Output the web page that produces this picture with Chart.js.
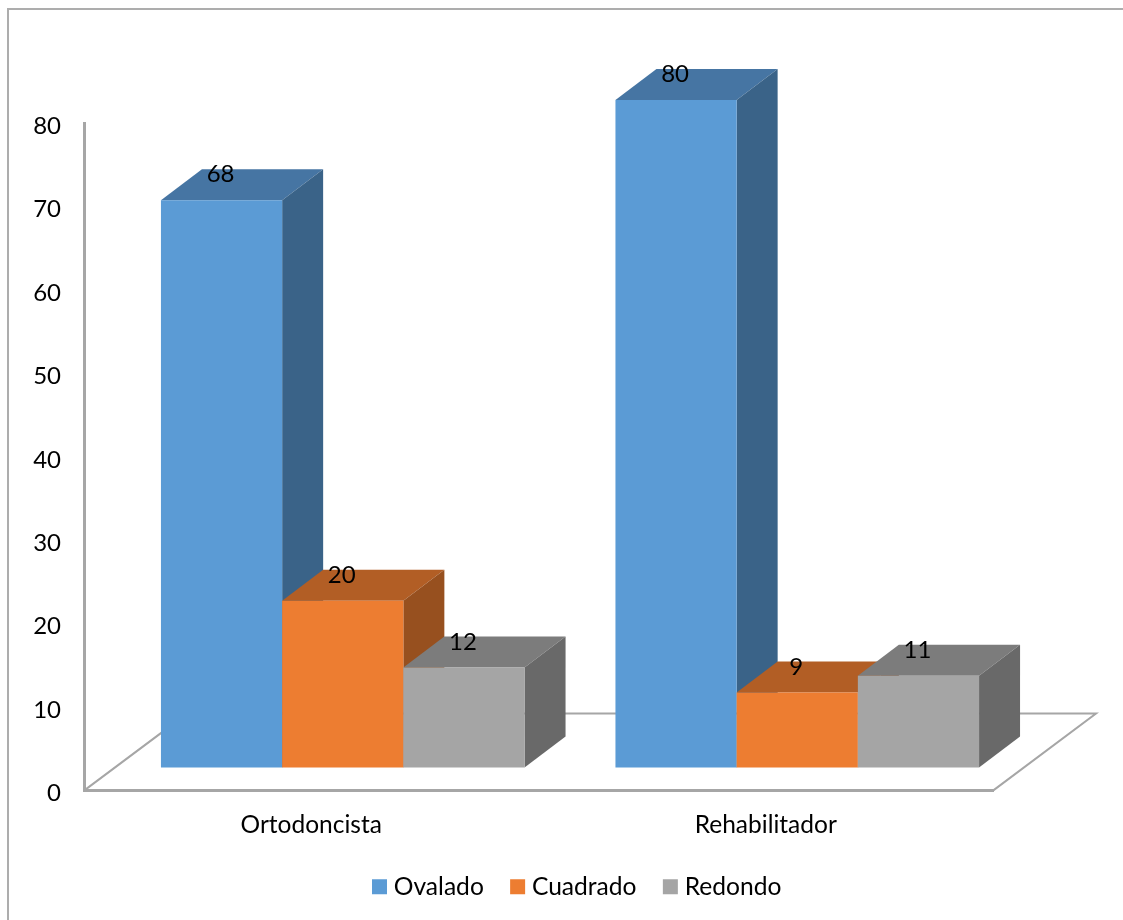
<!DOCTYPE html>
<html>
<head>
<meta charset="utf-8">
<title>Forma de arcada por especialidad</title>
<style>
  html, body { margin: 0; padding: 0; background: #fff; }
  canvas { display: block; }
</style>
<script src="https://cdn.jsdelivr.net/npm/chart.js@4/dist/chart.umd.js"></script>
</head>
<body>
<canvas id="chart" width="1123" height="920"></canvas>
<script>
const categories = ['Ortodoncista', 'Rehabilitador'];
const seriesNames = ['Ovalado', 'Cuadrado', 'Redondo'];
const ovalado = [68, 80];
const cuadrado = [20, 9];
const redondo = [12, 11];

const frontColors = ['#5B9BD5', '#ED7D31', '#A5A5A5'];
const topColors = ['#4675A3', '#B25E25', '#7C7C7C'];
const sideColors = ['#3A6388', '#97501F', '#696969'];

const FONT = 'Lato';
const AXIS_COLOR = '#A6A6A6';
const TEXT_COLOR = '#000000';

// Oblique projection of the 3D box: depth of each bar, and where the bars stand on the floor.
const DEPTH_X = 41, DEPTH_Y = 31;
const BAR_SHIFT_X = 31.5, BAR_SHIFT_Y = 23;
const FLOOR_X = 103, FLOOR_Y = 77;
const LABEL_LIFT = 25.5;

function face(ctx, color, points) {
  ctx.fillStyle = color;
  ctx.beginPath();
  points.forEach(([x, y], i) => (i ? ctx.lineTo(x, y) : ctx.moveTo(x, y)));
  ctx.closePath();
  ctx.fill();
}

const frame = {
  id: 'frame',
  beforeDraw(chart) {
    const { ctx, width, height } = chart;
    ctx.save();
    ctx.strokeStyle = '#ADADAD';
    ctx.lineWidth = 2;
    ctx.beginPath();
    ctx.moveTo(8, height);
    ctx.lineTo(8, 9);
    ctx.lineTo(width, 9);
    ctx.stroke();
    ctx.restore();
  }
};

const legendPlacement = {
  id: 'legendPlacement',
  afterLayout(chart) {
    const legend = chart.legend;
    const pad = legend.options.labels.padding;
    const w = legend.right - legend.left;
    legend.left = 377.5 - pad;
    legend.right = legend.left + w;
  }
};

const bars3d = {
  id: 'bars3d',
  beforeDatasetsDraw(chart) {
    const { ctx, chartArea, scales } = chart;
    const y0 = scales.y.getPixelForValue(0);

    // Floor of the 3D box
    ctx.save();
    ctx.strokeStyle = AXIS_COLOR;
    ctx.lineWidth = 2;
    ctx.beginPath();
    ctx.moveTo(chartArea.left, y0);
    ctx.lineTo(chartArea.left + FLOOR_X, y0 - FLOOR_Y);
    ctx.lineTo(chartArea.right + FLOOR_X, y0 - FLOOR_Y);
    ctx.lineTo(chartArea.right, y0);
    ctx.stroke();

    // Each bar is front + top + side, painted series by series so nearer ones overlap
    ctx.translate(BAR_SHIFT_X, -BAR_SHIFT_Y);
    chart.data.datasets.forEach((ds, d) => {
      chart.getDatasetMeta(d).data.forEach((bar) => {
        const { x, y, base, width } = bar.getProps(['x', 'y', 'base', 'width']);
        const l = x - width / 2, r = x + width / 2;
        face(ctx, topColors[d], [[l, y], [r, y], [r + DEPTH_X, y - DEPTH_Y], [l + DEPTH_X, y - DEPTH_Y]]);
        face(ctx, sideColors[d], [[r, y], [r + DEPTH_X, y - DEPTH_Y], [r + DEPTH_X, base - DEPTH_Y], [r, base]]);
        bar.draw(ctx);
      });
    });

    // Value labels sit on the top face
    ctx.fillStyle = TEXT_COLOR;
    ctx.font = `24px ${FONT}`;
    ctx.textAlign = 'center';
    ctx.textBaseline = 'middle';
    chart.data.datasets.forEach((ds, d) => {
      chart.getDatasetMeta(d).data.forEach((bar, i) => {
        ctx.fillText(String(ds.data[i]), bar.x - 1, bar.y - LABEL_LIFT);
      });
    });
    ctx.restore();
    return false;
  }
};

const seriesValues = [ovalado, cuadrado, redondo];

new Chart(document.getElementById('chart'), {
  type: 'bar',
  data: {
    labels: categories,
    datasets: seriesNames.map((name, i) => ({
      label: name,
      data: seriesValues[i],
      backgroundColor: frontColors[i],
      borderWidth: 0,
      categoryPercentage: 0.8,
      barPercentage: 1
    }))
  },
  options: {
    responsive: false,
    animation: false,
    layout: { padding: { top: 123, right: 130, left: 0, bottom: 11 } },
    plugins: {
      tooltip: { enabled: false },
      legend: {
        position: 'bottom',
        align: 'start',
        labels: {
          color: TEXT_COLOR,
          font: { family: FONT, size: 24.6 },
          padding: 31.8,
          boxWidth: 4,
          boxHeight: 4,
          generateLabels: (chart) => chart.data.datasets.map((ds, i) => ({
            text: ds.label,
            fillStyle: frontColors[i],
            strokeStyle: frontColors[i],
            lineWidth: 11,
            lineJoin: 'miter',
            datasetIndex: i
          }))
        }
      }
    },
    scales: {
      x: {
        grid: { display: false, drawTicks: false },
        border: { color: AXIS_COLOR, width: 3 },
        ticks: { color: TEXT_COLOR, font: { family: FONT, size: 24.5 }, padding: 20, maxRotation: 0 },
        afterFit: (scale) => { scale.height = 52; }
      },
      y: {
        min: 0,
        max: 80,
        grid: { display: false, drawTicks: false },
        border: { color: AXIS_COLOR, width: 3 },
        ticks: { color: TEXT_COLOR, font: { family: FONT, size: 24 }, padding: 23, stepSize: 10, labelOffset: 3 },
        afterFit: (scale) => { scale.width = 84; }
      }
    }
  },
  plugins: [frame, legendPlacement, bars3d]
});
</script>
</body>
</html>
